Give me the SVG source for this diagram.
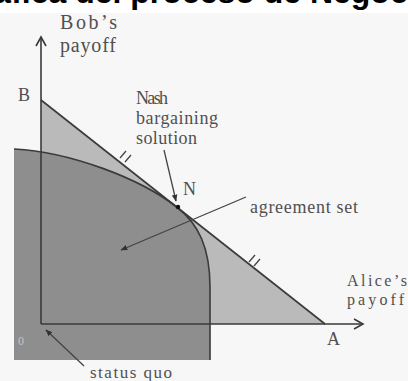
<svg xmlns="http://www.w3.org/2000/svg" width="408" height="381" viewBox="0 0 408 381">
<defs>
<style>
.lbl{font-family:"Liberation Serif","DejaVu Serif",serif;fill:#505050;}
.ln{stroke:#3a3a3a;stroke-width:1.6;fill:none;}
.ann{stroke:#444;stroke-width:1.3;fill:none;}
</style>
<marker id="ah" viewBox="0 0 10 10" refX="9" refY="5" markerWidth="7" markerHeight="7" orient="auto" markerUnits="userSpaceOnUse">
<path d="M0,1 L10,5 L0,9 z" fill="#333"/>
</marker>
</defs>
<rect x="0" y="0" width="408" height="381" fill="#ffffff"/>
<rect x="0" y="13" width="408" height="368" fill="#f7f7f7"/>
<text x="-44" y="3" font-family="Liberation Sans, Arial, sans-serif" font-weight="bold" font-size="32" fill="#000">Gráfica del proceso de Negociación</text>

<g id="possibility-set">
<polygon points="41,100 325,324 41,324" fill="#bababa"/>
</g>
<g id="agreement-region">
<path d="M14,149 C70,152 140,178 178,208 C198,224 210,247 210,287 L210,360 L14,360 Z" fill="#8e8e8e"/>
<path class="ln" d="M14,149 C70,152 140,178 178,208 C198,224 210,247 210,287 L210,360"/>
</g>

<g id="connectors">
<line class="ln" x1="41" y1="100" x2="325" y2="324"/>
<line class="ln" x1="41" y1="37" x2="41" y2="324"/>
<polyline class="ln" points="36,46 41,37 46,46"/>
<line class="ln" x1="41" y1="324" x2="363" y2="324"/>
<polyline class="ln" points="354,319 363,324 354,329"/>
<line class="ann" x1="120" y1="158" x2="126" y2="151"/>
<line class="ann" x1="125" y1="162" x2="131" y2="155"/>
<line class="ann" x1="249" y1="262" x2="255" y2="255"/>
<line class="ann" x1="254" y1="266" x2="260" y2="259"/>
<line class="ann" x1="164" y1="150" x2="176" y2="201" marker-end="url(#ah)"/>
<line class="ann" x1="246" y1="197" x2="121" y2="250" marker-end="url(#ah)"/>
<line class="ann" x1="84" y1="366" x2="46" y2="330" marker-end="url(#ah)"/>
</g>

<g id="N-point">
<circle cx="178" cy="207" r="2.2" fill="#111"/>
<text class="lbl" x="183" y="195" font-size="18">N</text>
</g>
<g id="labels">
<text class="lbl" x="60" y="29" font-size="20" textLength="57">Bob’s</text>
<text class="lbl" x="60" y="52" font-size="20" textLength="56">payoff</text>
<text class="lbl" x="18" y="101" font-size="18">B</text>
<text class="lbl" x="136" y="104" font-size="18" textLength="32">Nash</text>
<text class="lbl" x="136" y="124" font-size="18" textLength="82">bargaining</text>
<text class="lbl" x="136" y="144" font-size="18" textLength="61">solution</text>
<text class="lbl" x="250" y="213" font-size="18" textLength="108">agreement set</text>
<text class="lbl" x="347" y="286" font-size="16" textLength="60">Alice’s</text>
<text class="lbl" x="347" y="305" font-size="16" textLength="57">payoff</text>
<text class="lbl" x="327" y="345" font-size="18">A</text>
<text class="lbl" x="18" y="345" font-size="12" style="fill:#c4c4c4">0</text>
<text class="lbl" x="90" y="378" font-size="17" textLength="82">status quo</text>
</g>
</svg>
